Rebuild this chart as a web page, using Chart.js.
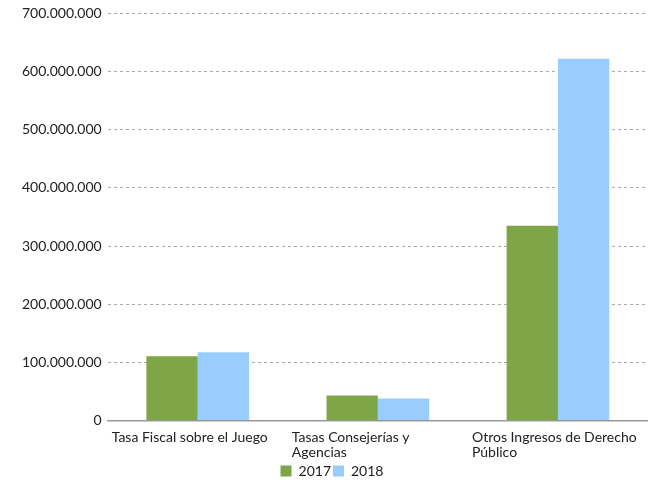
<!DOCTYPE html>
<html><head><meta charset="utf-8">
<script src="https://cdn.jsdelivr.net/npm/chart.js@4"></script>
<style>html,body{margin:0;padding:0;background:#fff}</style>
</head><body>
<canvas id="c" width="648" height="480"></canvas>
<script>
const categories = [["Tasa Fiscal sobre el Juego"], ["Tasas Consejerías y", "Agencias"], ["Otros Ingresos de Derecho", "Público"]];
const seriesNames = ["2017", "2018"];
const values2017 = [110500000, 43000000, 335000000];
const values2018 = [117500000, 38000000, 622000000];
const yTicks = [0, 100000000, 200000000, 300000000, 400000000, 500000000, 600000000, 700000000];
const colors = ["#7EA646", "#99CCFF"];

const fmt = v => v === 0 ? "0" : v.toString().replace(/\B(?=(\d{3})+(?!\d))/g, ".");
const font = {family: "Lato, 'Open Sans', sans-serif", size: 14, lineHeight: 1.05};

new Chart(document.getElementById("c"), {
  type: "bar",
  data: {
    labels: categories,
    datasets: [
      {label: seriesNames[0], data: values2017, backgroundColor: colors[0]},
      {label: seriesNames[1], data: values2018, backgroundColor: colors[1]}
    ]
  },
  options: {
    responsive: false,
    animation: false,
    layout: {padding: {top: 9, right: 0, left: 16, bottom: -8}},
    datasets: {bar: {categoryPercentage: 0.57, barPercentage: 1}},
    plugins: {
      legend: {
        position: "bottom",
        labels: {boxWidth: 11, boxHeight: 11, padding: 2, color: "#222", font: font}
      },
      tooltip: {enabled: false}
    },
    scales: {
      x: {
        grid: {display: false},
        border: {display: true, color: "#999", width: 1.5},
        afterFit: s => { s.paddingRight = 0; s.paddingLeft = 0; },
        ticks: {color: "#222", font: font, align: "start", labelOffset: -86, padding: 2, maxRotation: 0, autoSkip: false}
      },
      y: {
        min: 0, max: 700000000,
        afterBuildTicks: s => { s.ticks = yTicks.map(v => ({value: v})); },
        grid: {color: "#aaa", drawTicks: false, lineWidth: 1},
        border: {display: false, dash: [3, 3]},
        ticks: {color: "#222", font: font, padding: 6, callback: v => fmt(v)}
      }
    }
  }
});
</script>
</body></html>
